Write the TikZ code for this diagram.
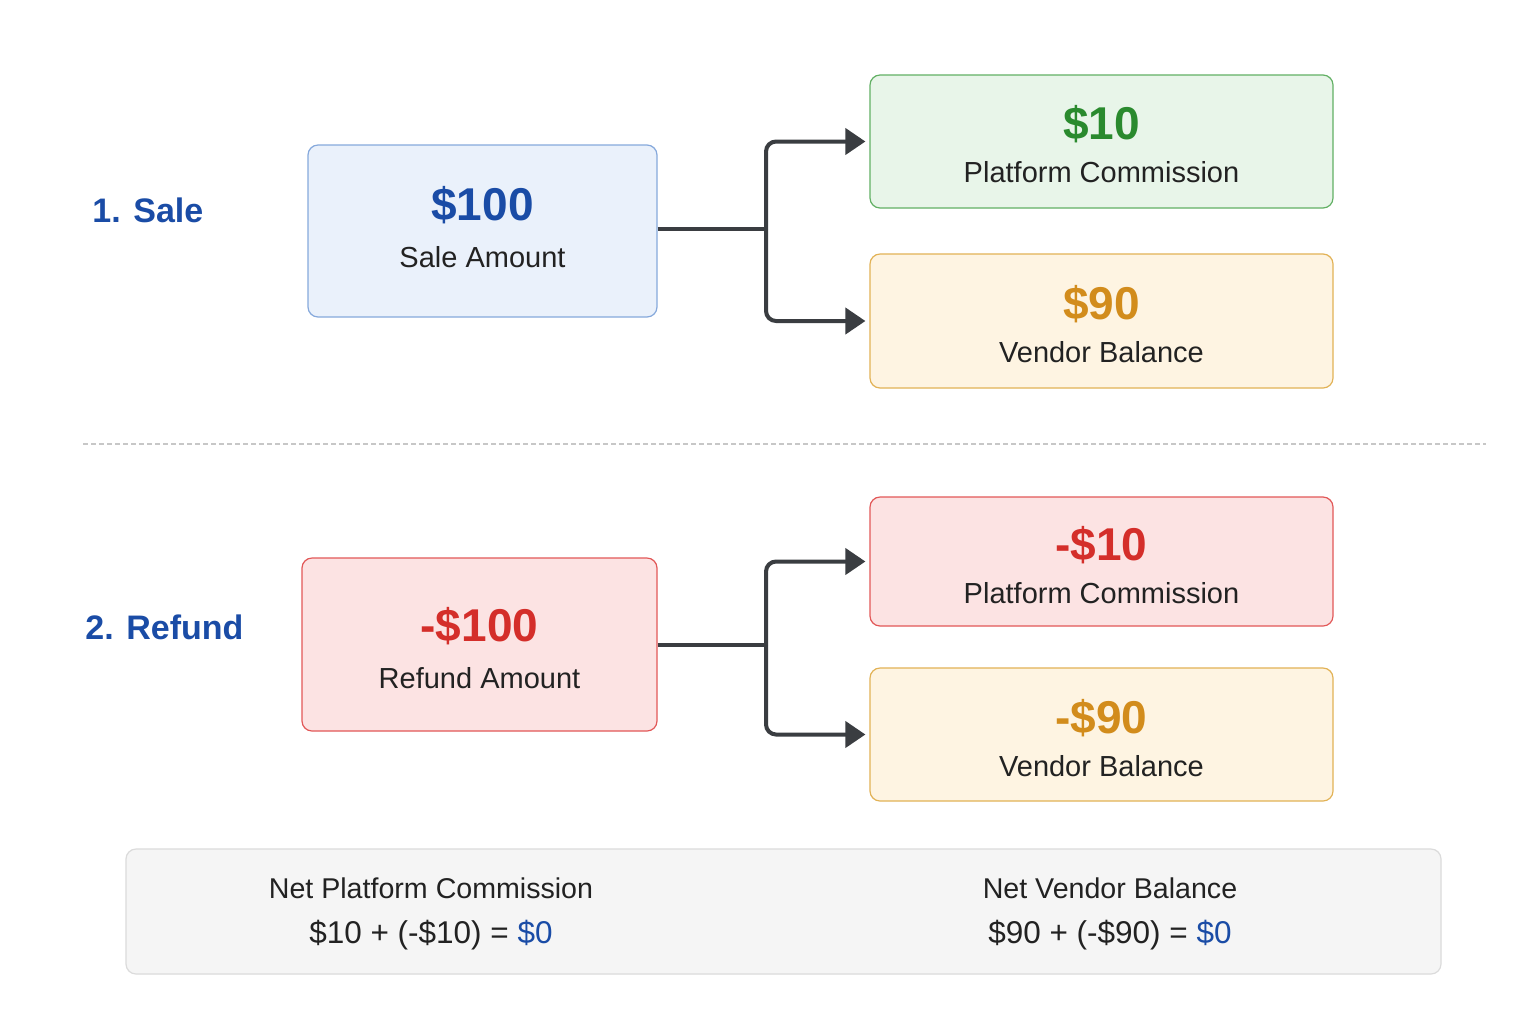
\documentclass[tikz,border=0pt]{standalone}
\usepackage{fontspec}
\setmainfont{Liberation Sans}
\usetikzlibrary{arrows.meta}

\definecolor{saleblue}{HTML}{1A4CA6}
\definecolor{bluefill}{HTML}{EAF1FB}
\definecolor{blueline}{HTML}{86A9DC}
\definecolor{greentxt}{HTML}{2A8A2E}
\definecolor{greenfill}{HTML}{E8F5E9}
\definecolor{greenline}{HTML}{62B064}
\definecolor{orangetxt}{HTML}{D28C1C}
\definecolor{orangefill}{HTML}{FEF4E2}
\definecolor{orangeline}{HTML}{E2B256}
\definecolor{redtxt}{HTML}{D42E2A}
\definecolor{redfill}{HTML}{FCE3E3}
\definecolor{redline}{HTML}{E25858}
\definecolor{darkline}{HTML}{3A3D41}
\definecolor{inktxt}{HTML}{222222}

\tikzstyle{box}=[draw, rounded corners=5pt, line width=0.6pt, inner sep=0pt]
\tikzstyle{bluebox}=[box, fill=bluefill, draw=blueline]
\tikzstyle{greenbox}=[box, fill=greenfill, draw=greenline]
\tikzstyle{orangebox}=[box, fill=orangefill, draw=orangeline]
\tikzstyle{redbox}=[box, fill=redfill, draw=redline]
\tikzstyle{boxtext}=[align=center, inner sep=0pt, text=inktxt, font=\fontsize{14.5}{22.5}\selectfont]
\tikzstyle{stage}=[anchor=west, inner sep=0pt, text=saleblue, font=\fontsize{17}{20}\selectfont\bfseries]
\tikzstyle{link}=[draw=darkline, line width=2pt, rounded corners=5pt]
\tikzstyle{arrow}=[link, -{Triangle[length=10pt,width=13pt]}, shorten >=2pt]
\tikzstyle{net}=[align=center, inner sep=0pt, text=inktxt, font=\fontsize{14.3}{22.5}\selectfont]

\newcommand{\amt}[2]{{\fontsize{23}{22.5}\selectfont\bfseries\color{#1}#2}}

\begin{document}
\begin{tikzpicture}[x=0.5pt, y=-0.5pt]
    \fill[white] (0,0) rectangle (1536,1024);

    % stage titles
    \node[stage] (saletitle) at (92,210) {1. Sale};
    \node[stage] (refundtitle) at (85,627) {2. Refund};

    % boxes and their texts
    \foreach \pos/\name/\style/\wid/\hgt/\col/\val/\txt/\dy/\gap in {
                            {(482.5,231)/sale/bluebox/174.5pt/86pt/saleblue/\$100/Sale Amount/2pt/1pt},
                            {(479.5,644.5)/refund/redbox/177.5pt/86.5pt/redtxt/-\$100/Refund Amount/-2pt/1pt},
                            {(1101.5,141.5)/salepc/greenbox/231.5pt/66.5pt/greentxt/\$10/Platform Commission/-1.5pt/-1pt},
                            {(1101.5,321)/salevb/orangebox/231.5pt/67pt/orangetxt/\$90/Vendor Balance/-1.5pt/-1pt},
                            {(1101.5,561.5)/refundpc/redbox/231.5pt/64.5pt/redtxt/-\$10/Platform Commission/-2pt/-1pt},
                            {(1101.5,734.5)/refundvb/orangebox/231.5pt/66.5pt/orangetxt/-\$90/Vendor Balance/-2pt/-1pt}}
    {
        \node[\style, minimum width=\wid, minimum height=\hgt] (\name) at \pos {};
        \node[boxtext] (\name txt) at ([yshift=\dy]\name.center) {\amt{\col}{\val}\\[\gap]\txt};
    }

    % forks
    \coordinate (salefork) at (766,229);
    \coordinate (refundfork) at (766,645);
    \path[link] (sale.east |- salefork) -- (salefork);
    \path[link] (refund.east |- refundfork) -- (refundfork);
    \foreach \source/ \dest in {salefork/salepc, salefork/salevb, refundfork/refundpc, refundfork/refundvb}
        \path[arrow] (\source) |- (\dest.west);

    % divider
    \coordinate (divl) at (83,444);
    \coordinate (divr) at (1486,444);
    \draw[black!22, line width=0.8pt, dash pattern=on 2.5pt off 1.5pt] (divl) -- (divr);

    % summary
    \node[draw=black!14, fill=black!4, rounded corners=5pt, line width=0.6pt,
          minimum width=657.5pt, minimum height=62.5pt] (summary) at (783.5,911.5) {};
    \node[net] (netpc) at (431,914)
        {Net Platform Commission\\{\fontsize{15.75}{22.5}\selectfont\$10 + (-\$10) = \textcolor{saleblue}{\$0}}};
    \node[net] (netvb) at (1110,914)
        {Net Vendor Balance\\{\fontsize{15.75}{22.5}\selectfont\$90 + (-\$90) = \textcolor{saleblue}{\$0}}};
\end{tikzpicture}
\end{document}
